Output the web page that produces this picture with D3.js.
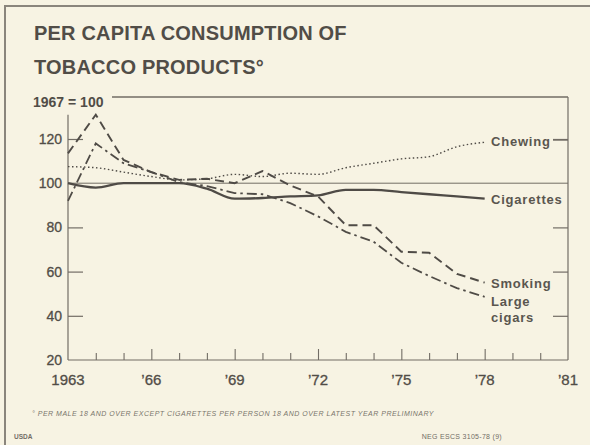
<!DOCTYPE html>
<html>
<head>
<meta charset="utf-8">
<script src="https://cdn.jsdelivr.net/npm/d3@7"></script>
<style>
  body { margin: 0; background: #f7f3e3; }
  svg { display: block; font-family: "Liberation Sans", Arial, sans-serif; }
</style>
</head>
<body>
<svg width="590" height="445"></svg>
<script>
// DATA

var years = [1963, 1964, 1965, 1966, 1967, 1968, 1969, 1970, 1971, 1972, 1973, 1974, 1975, 1976, 1977, 1978];
var cigarettes = [100, 98, 100, 100, 100, 97.5, 93, 93.3, 94, 94.5, 97, 97, 96, 95, 94, 93];
var chewing = [107.5, 107, 105, 103, 101.5, 102, 104, 103, 104.5, 104, 107, 109, 111, 112, 116.5, 118.5];
var smoking = [113.5, 131, 110.5, 105, 101.5, 102, 100, 105.5, 99, 94, 81, 81, 69, 68.5, 59, 55];
var largeCigars = [92, 118, 109, 105, 100.5, 98.7, 95.5, 95, 91, 85, 78, 73.5, 64, 58, 52.5, 48.6];

var yTicks = [20, 40, 60, 80, 100, 120];
var xLabels = [[1963, "1963"], [1966, "\u201966"], [1969, "\u201969"], [1972, "\u201972"], [1975, "\u201975"], [1978, "\u201978"], [1981, "\u201981"]];

// SETUP

var svg = d3.select("svg"),
    ink = "#514d47",
    axisInk = "#726d65",
    plotL = 68, plotR = 568, plotT = 97, plotB = 360;

var x = d3.scaleLinear().domain([1963, 1981]).range([plotL, plotR]);
var y = d3.scaleLinear().domain([20, 139]).range([plotB, plotT]);

// frame
svg.append("path")
  .attr("d", "M5,445 V6 H590")
  .attr("fill", "none")
  .attr("stroke", "#8a857c")
  .attr("stroke-width", 2);

// title
svg.append("text").attr("x", 34).attr("y", 40)
  .attr("font-size", 20).attr("font-weight", "bold").attr("fill", ink)
  .attr("letter-spacing", 0.2)
  .text("PER CAPITA CONSUMPTION OF");
svg.append("text").attr("x", 34).attr("y", 74)
  .attr("font-size", 20).attr("font-weight", "bold").attr("fill", ink)
  .attr("letter-spacing", 0.2)
  .text("TOBACCO PRODUCTS\u00B0");

svg.append("text").attr("x", 33).attr("y", 107)
  .attr("font-size", 14).attr("font-weight", "bold").attr("fill", ink)
  .text("1967 = 100");

// plot box
var g = svg.append("g").attr("stroke", axisInk).attr("fill", "none");
g.append("line").attr("x1", 112).attr("x2", plotR).attr("y1", plotT).attr("y2", plotT).attr("stroke-width", 1.3);
g.append("line").attr("x1", plotR).attr("x2", plotR).attr("y1", plotT).attr("y2", plotB).attr("stroke-width", 1.2);
g.append("line").attr("x1", plotL).attr("x2", plotL).attr("y1", y(131)).attr("y2", plotB).attr("stroke-width", 1.2);
g.append("line").attr("x1", plotL).attr("x2", plotR).attr("y1", plotB).attr("y2", plotB).attr("stroke-width", 1.2);
g.append("line").attr("x1", plotL).attr("x2", plotR).attr("y1", y(100)).attr("y2", y(100)).attr("stroke-width", 1);

// y ticks, inside on both sides
var innerTicks = yTicks.filter(function (d) { return d != 20 && d != 100; });
var yAxisL = svg.append("g").attr("transform", "translate(" + plotL + ",0)")
  .call(d3.axisRight(y).tickValues(innerTicks).tickSize(15).tickFormat(""));
var yAxisR = svg.append("g").attr("transform", "translate(" + plotR + ",0)")
  .call(d3.axisLeft(y).tickValues(innerTicks).tickSize(15).tickFormat(""));
[yAxisL, yAxisR].forEach(function (a) {
  a.select(".domain").remove();
  a.selectAll("line").attr("stroke", axisInk).attr("stroke-width", 1.2);
});

svg.append("g").selectAll("text").data(yTicks).enter().append("text")
  .attr("x", 62).attr("y", function (d) { return y(d) + 5; })
  .attr("text-anchor", "end").attr("font-size", 14).attr("fill", ink)
  .attr("stroke", ink).attr("stroke-width", 0.3)
  .text(function (d) { return d; });

// x ticks pointing up
var xAxis = svg.append("g").attr("transform", "translate(0," + plotB + ")")
  .call(d3.axisTop(x).tickValues(d3.range(1964, 1981)).tickSize(6).tickFormat(""));
xAxis.select(".domain").remove();
xAxis.selectAll("line")
  .attr("y2", function (d) { return (d - 1963) % 3 == 0 ? -11 : -7; })
  .attr("stroke", axisInk).attr("stroke-width", 1.1);

svg.append("g").selectAll("text").data(xLabels).enter().append("text")
  .attr("x", function (d) { return x(d[0]); }).attr("y", 385)
  .attr("text-anchor", "middle").attr("font-size", 15).attr("fill", ink)
  .attr("stroke", ink).attr("stroke-width", 0.3)
  .text(function (d) { return d[1]; });

// LINES

var series = [
  { name: "Chewing", values: chewing, dash: "1.5,2.5", width: 1.4, curve: d3.curveMonotoneX },
  { name: "Cigarettes", values: cigarettes, dash: null, width: 2.3, curve: d3.curveMonotoneX },
  { name: "Smoking", values: smoking, dash: "9,5", width: 1.9, curve: d3.curveLinear },
  { name: "Large cigars", values: largeCigars, dash: "10,4,2.5,4", width: 1.8, curve: d3.curveLinear }
];

svg.append("g").selectAll("path").data(series).enter().append("path")
  .attr("d", function (d) {
    return d3.line()
      .x(function (v, i) { return x(years[i]); })
      .y(function (v) { return y(v); })
      .curve(d.curve)(d.values);
  })
  .attr("fill", "none")
  .attr("stroke", "#4f4b46")
  .attr("stroke-width", function (d) { return d.width; })
  .attr("stroke-dasharray", function (d) { return d.dash; });

// labels
var labels = [
  { text: "Chewing", v: 119 },
  { text: "Cigarettes", v: 92.5 },
  { text: "Smoking", v: 54.5 },
  { text: "Large", v: 46.5 },
  { text: "cigars", v: 39.3 }
];
svg.append("g").selectAll("text").data(labels).enter().append("text")
  .attr("x", 491).attr("y", function (d) { return y(d.v) + 4.5; })
  .attr("font-size", 13).attr("font-weight", "bold").attr("fill", "#5a564f")
  .attr("letter-spacing", 0.8)
  .text(function (d) { return d.text; });

// leader from Chewing label to the 120 tick
svg.append("line")
  .attr("x1", 553).attr("x2", plotR).attr("y1", y(119.5)).attr("y2", y(119.5))
  .attr("stroke", axisInk).attr("stroke-width", 1.2);

// footnotes
svg.append("text").attr("x", 32).attr("y", 416)
  .attr("font-size", 7).attr("font-style", "italic").attr("fill", "#7a756c")
  .attr("letter-spacing", 0.5)
  .text("\u00B0 PER MALE 18 AND OVER  EXCEPT CIGARETTES PER PERSON 18 AND OVER   LATEST YEAR PRELIMINARY");
svg.append("text").attr("x", 14).attr("y", 439)
  .attr("font-size", 6.5).attr("font-weight", "bold").attr("fill", axisInk)
  .text("USDA");
svg.append("text").attr("x", 502).attr("y", 439).attr("text-anchor", "end")
  .attr("font-size", 7).attr("fill", axisInk).attr("letter-spacing", 0.3)
  .text("NEG  ESCS 3105-78 (9)");
</script>
</body>
</html>
